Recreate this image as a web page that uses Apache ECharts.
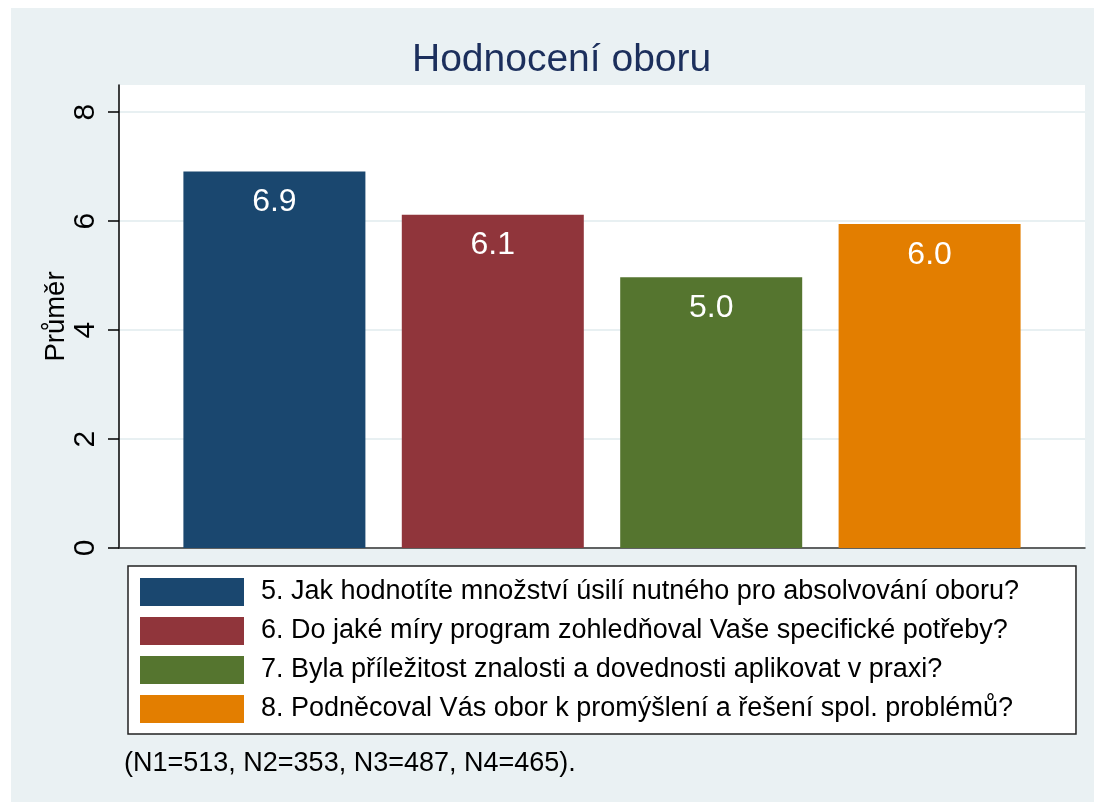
<!DOCTYPE html>
<html>
<head>
<meta charset="utf-8">
<script src="https://cdn.jsdelivr.net/npm/echarts@6/dist/echarts.min.js"></script>
<style>
  html, body { margin: 0; padding: 0; background: #fff; }
  #main { width: 1094px; height: 802px; }
</style>
</head>
<body>
<div id="main"></div>
<script>
// data
var questions = [
    '5. Jak hodnotíte množství úsilí nutného pro absolvování oboru?',
    '6. Do jaké míry program zohledňoval Vaše specifické potřeby?',
    '7. Byla příležitost znalosti a dovednosti aplikovat v praxi?',
    '8. Podněcoval Vás obor k promýšlení a řešení spol. problémů?'
];
var means = [6.91, 6.12, 4.97, 5.95];
var barColors = ['#1a476f', '#90353b', '#55752f', '#e37e00'];
var yTicks = [0, 2, 4, 6, 8];
var footnote = '(N1=513, N2=353, N3=487, N4=465).';

var chart = echarts.init(document.getElementById('main'));
var font = '"Liberation Sans", Arial, sans-serif';

var series = questions.map(function (q, i) {
    return {
        name: q,
        type: 'bar',
        data: [means[i]],
        barWidth: 182,
        barGap: '20%',
        itemStyle: { color: barColors[i] },
        label: {
            show: true,
            position: 'insideTop',
            distance: 15,
            color: '#fff',
            fontFamily: font,
            fontSize: 32,
            formatter: function (p) { return p.value.toFixed(1); }
        }
    };
});

var option = {
    animation: false,
    textStyle: { fontFamily: font },
    graphic: [{
        type: 'rect',
        z: -10,
        shape: { x: 11, y: 8, width: 1083, height: 794 },
        style: { fill: '#eaf1f3' }
    }],
    title: [{
        text: 'Hodnocení oboru',
        left: 407,
        top: 36,
        textStyle: { fontFamily: font, fontSize: 39, fontWeight: 'normal', color: '#1c2f5c' }
    }, {
        text: footnote,
        left: 119,
        top: 745,
        textStyle: { fontFamily: font, fontSize: 27, fontWeight: 'normal', color: '#000' }
    }],
    legend: {
        orient: 'vertical',
        left: 128,
        top: 566,
        icon: 'rect',
        itemWidth: 104,
        itemHeight: 28,
        itemGap: 11,
        padding: [12, 57, 11, 12],
        backgroundColor: '#fff',
        borderColor: '#222',
        borderWidth: 1.5,
        borderRadius: 0,
        textStyle: { fontFamily: font, fontSize: 27, color: '#000', padding: [0, 0, 0, 12] },
        data: questions
    },
    grid: {
        left: 119,
        right: 9,
        top: 85,
        bottom: 254,
        show: true,
        backgroundColor: '#fff',
        borderWidth: 0
    },
    xAxis: {
        type: 'category',
        data: [''],
        axisTick: { show: false },
        axisLabel: { show: false },
        axisLine: { lineStyle: { color: '#333', width: 1.5 } }
    },
    yAxis: {
        type: 'value',
        min: 0,
        max: 8.5,
        interval: 2,
        name: 'Průměr',
        nameLocation: 'middle',
        nameGap: 49,
        nameMoveOverlap: false,
        nameTextStyle: { fontFamily: font, fontSize: 27.5, color: '#000' },
        axisLine: { show: true, lineStyle: { color: '#000', width: 1.5 } },
        axisTick: { show: true, length: 11, customValues: yTicks, lineStyle: { color: '#000', width: 1.5 } },
        axisLabel: {
            customValues: yTicks,
            rotate: 90,
            margin: 18,
            fontFamily: font,
            fontSize: 30,
            color: '#000'
        },
        splitLine: { lineStyle: { color: '#e8f0f2', width: 2 } }
    },
    series: series
};
chart.setOption(option);
</script>
</body>
</html>
